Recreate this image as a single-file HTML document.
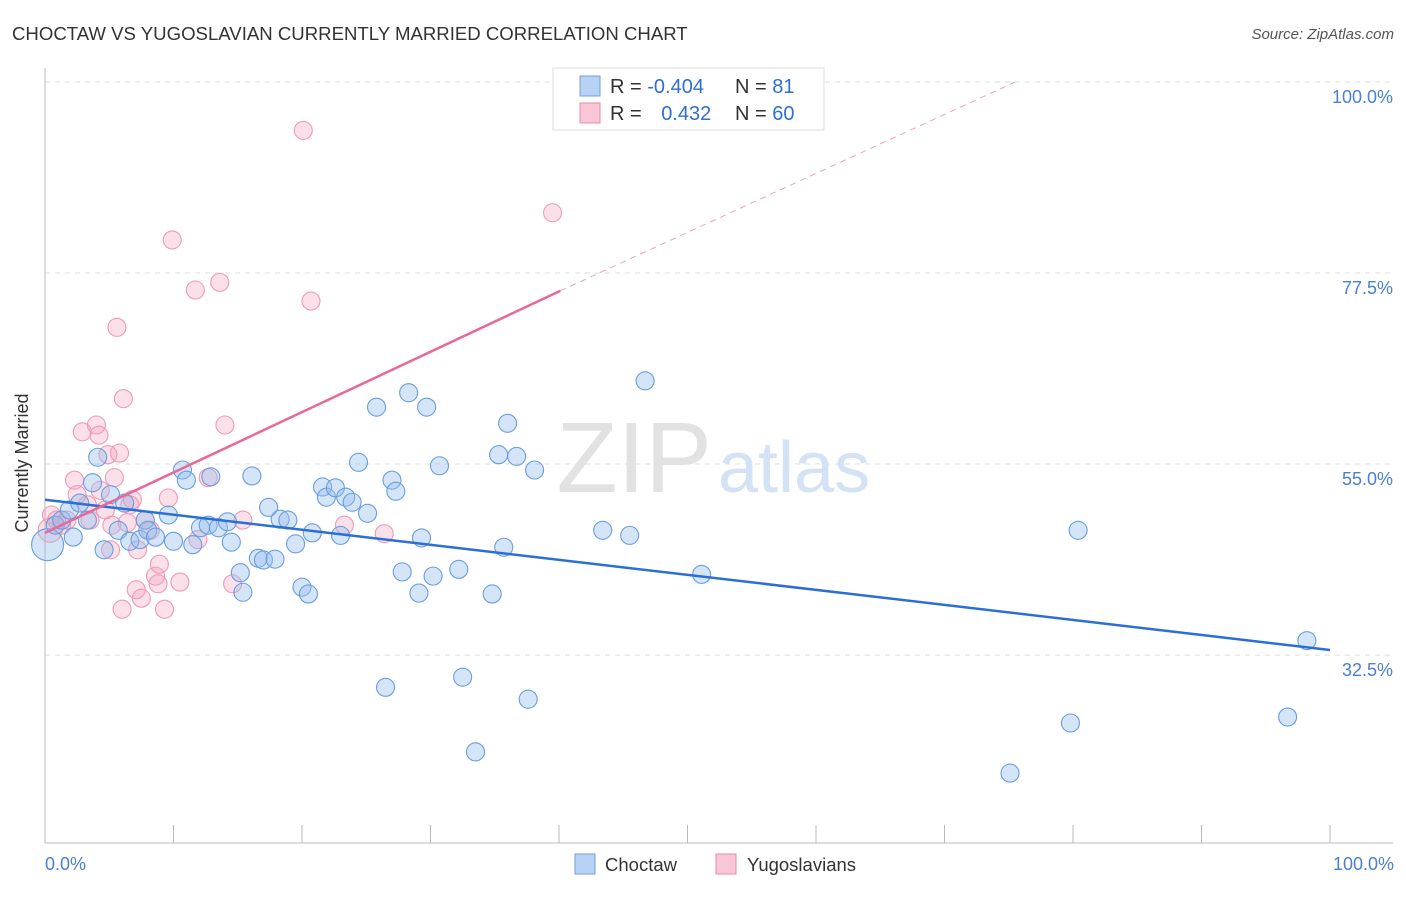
<!DOCTYPE html>
<html><head><meta charset="utf-8">
<style>
body{margin:0;background:#fff;font-family:"Liberation Sans",sans-serif;}
svg text{font-family:"Liberation Sans",sans-serif;}
</style></head>
<body>
<svg id="chart" width="1406" height="892" xmlns="http://www.w3.org/2000/svg">
<text x="12" y="40" font-size="18.6" fill="#333">CHOCTAW VS YUGOSLAVIAN CURRENTLY MARRIED CORRELATION CHART</text>
<text x="1394" y="39" font-size="15" fill="#555" text-anchor="end" font-style="italic">Source: ZipAtlas.com</text>
<g id="grid"></g>
<text x="712" y="492" font-size="100" fill="#e2e2e2" text-anchor="end" font-family="Liberation Serif">ZIP</text>
<text x="718" y="492" font-size="72" fill="#d3e2f4">atlas</text>
<g id="pts"></g>
<g id="lines"></g>
<text x="20" y="455" font-size="18" fill="#333" transform="rotate(-90 28 455)" text-anchor="middle">Currently Married</text>
<text x="45" y="870" font-size="18" fill="#4a7fd4">0.0%</text>
<text x="1394" y="870" font-size="18" fill="#4a7fd4" text-anchor="end">100.0%</text>
<g>
<rect x="553" y="68" width="271" height="62" fill="#fff" stroke="#ddd"/>
<rect x="580" y="76" width="20" height="20" fill="#b8d2f3" stroke="#6f9fe0"/>
<rect x="580" y="103" width="20" height="20" fill="#f8c6d6" stroke="#e88aab"/>
<text x="610" y="93" font-size="20" fill="#333">R = <tspan fill="#2f6fd1">-0.404</tspan></text>
<text x="735" y="93" font-size="20" fill="#333">N = <tspan fill="#2f6fd1">81</tspan></text>
<text x="610" y="120" font-size="20" fill="#333">R = <tspan fill="#2f6fd1" dx="14">0.432</tspan></text>
<text x="735" y="120" font-size="20" fill="#333">N = <tspan fill="#2f6fd1">60</tspan></text>
</g>
<g>
<rect x="575" y="854" width="20" height="20" fill="#b8d2f3" stroke="#6f9fe0"/>
<text x="605" y="871" font-size="18.5" fill="#333">Choctaw</text>
<rect x="716" y="854" width="20" height="20" fill="#f8c6d6" stroke="#e88aab"/>
<text x="747" y="871" font-size="18.5" fill="#333">Yugoslavians</text>
</g>
</svg>
<script>
const yTicks=[100,77.5,55,32.5];
const yTickLabels=["100.0%","77.5%","55.0%","32.5%"];
const xTicks=[0,10,20,30,40,50,60,70,80,90,100];
const choctawX=[0.2,0.8,1.3,1.9,2.2,3.7,4.1,4.6,5.1,2.7,3.3,5.7,6.2,6.6,7.4,7.8,8.0,8.6,9.6,10.0,10.7,11.0,11.5,12.1,12.7,12.9,13.5,14.2,14.5,15.2,15.4,16.1,16.6,17.0,17.4,17.9,18.3,18.9,19.5,20.0,20.5,20.8,21.6,21.9,22.6,23.0,23.4,23.9,24.4,25.1,25.8,26.5,27.0,27.3,27.8,28.3,29.1,29.3,29.7,30.2,30.7,32.2,32.5,33.5,34.8,35.3,35.7,36.0,36.7,37.6,38.1,43.4,45.5,46.7,51.1,75.1,79.8,80.4,96.7,98.2];
const choctawY=[45.5,47.8,48.4,49.6,46.4,52.8,55.8,44.9,51.4,50.4,48.4,47.2,50.4,45.9,46.1,48.4,47.2,46.4,49.0,45.9,54.3,53.1,45.5,47.5,47.8,53.5,47.5,48.2,45.8,42.2,39.9,53.6,43.9,43.7,49.9,43.8,48.5,48.4,45.6,40.5,39.7,46.9,52.3,51.1,52.2,46.6,51.1,50.5,55.2,49.2,61.7,28.7,53.1,51.8,42.3,63.4,39.8,46.3,61.7,41.8,54.8,42.6,29.9,21.1,39.7,56.1,45.2,59.8,55.9,27.3,54.3,47.2,46.6,64.8,42.0,18.6,24.5,47.2,25.2,34.2];
const yugoX=[0.4,0.5,0.9,1.3,1.7,2.3,2.5,2.9,3.3,3.5,4.0,4.2,4.3,4.7,4.9,5.2,5.4,5.6,5.8,6.1,6.4,6.6,6.8,7.1,7.2,7.5,7.8,8.2,8.6,8.8,8.9,9.3,9.6,9.9,10.5,11.7,11.9,12.7,13.6,14.0,14.6,15.4,20.1,20.7,23.3,26.4,39.5,6.0,5.1];
const yugoY=[47.2,49.0,48.4,47.8,48.4,53.1,51.4,58.8,50.2,48.4,59.6,58.4,51.9,49.6,56.1,47.8,53.4,71.1,56.3,62.7,48.1,50.2,50.8,40.2,44.9,39.2,48.4,47.2,41.8,40.9,43.2,37.9,51.0,81.4,41.1,75.5,46.1,53.4,76.4,59.6,40.9,48.4,94.3,74.2,47.8,46.8,84.6,37.9,44.9];
const blueTrend=[[0,50.8],[100,33.1]];
const pinkTrend=[[0,46.9],[40.1,75.4]];
const pinkDash=[[40.1,75.4],[75.5,100]];
const X=v=>45+v*12.85, Y=v=>82+(100-v)*8.49;
const NS="http://www.w3.org/2000/svg";
function mk(tag,attrs,parent){const e=document.createElementNS(NS,tag);for(const k in attrs)e.setAttribute(k,attrs[k]);parent.appendChild(e);return e;}
const grid=document.getElementById('grid');
yTicks.forEach((t,i)=>{
 const l=mk('line',{x1:45,x2:1393,y1:Y(t),y2:Y(t),stroke:'#ddd','stroke-dasharray':'5,5'},grid);
 
 
 const tx=mk('text',{x:1393,y:Y(t)+21,'font-size':18,fill:'#4a7fd4','text-anchor':'end'},grid);
 tx.textContent=yTickLabels[i];
 
 
});
const ax=mk('line',{x1:45,x2:45,y1:68,y2:843,stroke:'#bbb'},grid);


const bx=mk('line',{x1:45,x2:1393,y1:843,y2:843,stroke:'#bbb'},grid);


xTicks.forEach(t=>{
 const l=mk('line',{x1:X(t),x2:X(t),y1:825,y2:843,stroke:'#bbb'},grid);
 
 
});
const pts=document.getElementById('pts');
yugoX.forEach((x,i)=>{
 const c=mk('circle',{cx:X(x),cy:Y(yugoY[i]),r:i===0?12:9,fill:'rgba(244,160,188,0.33)',stroke:'#ee9ab7','stroke-width':1.1},pts);
 
 
});
choctawX.forEach((x,i)=>{
 const c=mk('circle',{cx:X(x),cy:Y(choctawY[i]),r:i===0?16:9,fill:'rgba(150,190,238,0.4)',stroke:'#6a9ddf','stroke-width':1.1},pts);
 
 
});
const lines=document.getElementById('lines');
let l1=mk('line',{x1:X(blueTrend[0][0]),y1:Y(blueTrend[0][1]),x2:X(blueTrend[1][0]),y2:Y(blueTrend[1][1]),stroke:'#2a6fd6','stroke-width':2.5},lines);


let l2=mk('line',{x1:X(pinkTrend[0][0]),y1:Y(pinkTrend[0][1]),x2:X(pinkTrend[1][0]),y2:Y(pinkTrend[1][1]),stroke:'#e8689a','stroke-width':2.5},lines);


let l3=mk('line',{x1:X(pinkDash[0][0]),y1:Y(pinkDash[0][1]),x2:X(pinkDash[1][0]),y2:Y(pinkDash[1][1]),stroke:'#eea0bb','stroke-width':1,'stroke-dasharray':'6,5'},lines);


</script>
</body></html>
